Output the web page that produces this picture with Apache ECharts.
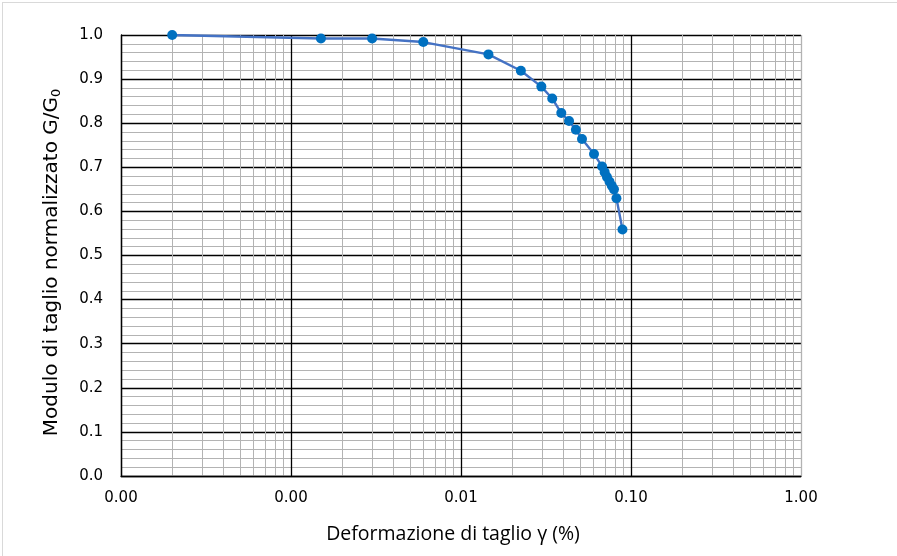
<!DOCTYPE html>
<html>
<head>
<meta charset="utf-8">
<script src="https://cdn.jsdelivr.net/npm/echarts@6/dist/echarts.min.js"></script>
<style>
  html, body { margin: 0; padding: 0; background: #fff; }
  #frame { position: absolute; left: 2px; top: 2px; width: 900px; height: 560px; border: 1px solid #d9d9d9; box-sizing: border-box; }
  #main { position: absolute; left: 0; top: 0; width: 897px; height: 556px; }
</style>
</head>
<body>
<div id="frame"></div>
<div id="main"></div>
<script>
// shear strain (%) and normalised shear modulus G/G0
var strain = [0.0002, 0.0015, 0.003, 0.006, 0.0145, 0.0225, 0.0297, 0.0344, 0.0389, 0.0432, 0.0474,
              0.0515, 0.0606, 0.0676, 0.0700, 0.0722, 0.0747, 0.0771, 0.0794, 0.0821, 0.0891];
var ratio = [1.0, 0.992, 0.992, 0.984, 0.956, 0.919, 0.883, 0.856, 0.823, 0.805, 0.785,
             0.764, 0.730, 0.702, 0.689, 0.678, 0.668, 0.658, 0.650, 0.630, 0.559];

var decades = [0.0001, 0.001, 0.01, 0.1];
var minorSteps = [2, 3, 4, 5, 6, 7, 8, 9];

// minor log grid positions (2..9 of each decade)
var minorX = [];
decades.forEach(function (d) {
    minorSteps.forEach(function (m) {
        minorX.push([d * m, 0]);
    });
});

var points = strain.map(function (s, i) { return [s, ratio[i]]; });

var labelFont = '"DejaVu Sans", sans-serif';

var chart = echarts.init(document.getElementById('main'));
chart.setOption({
    animation: false,
    grid: { left: 121, right: 96, top: 35, bottom: 80 },
    xAxis: {
        type: 'log',
        logBase: 10,
        min: 0.0001,
        max: 1,
        z: 2,
        name: 'Deformazione di taglio \u03b3 (%)',
        nameLocation: 'middle',
        nameGap: 48,
        nameTextStyle: {
            fontFamily: '"Open Sans", "Liberation Sans", sans-serif', fontSize: 19.5, color: '#000',
            padding: [0, 16, 0, 0]
        },
        axisLine: { show: true, lineStyle: { color: '#000', width: 1.3 } },
        axisTick: { show: false },
        axisLabel: {
            margin: 15,
            fontFamily: labelFont,
            fontSize: 15,
            color: '#000',
            formatter: function (v) { return v.toFixed(2); }
        },
        splitLine: { show: true, lineStyle: { color: ['#000', '#000', '#000', '#000', '#b3b3b3'], width: 1.3 } }
    },
    yAxis: {
        type: 'value',
        min: 0,
        max: 1,
        interval: 0.1,
        z: 0,
        name: 'Modulo di taglio normalizzato G/G{sub|0}',
        nameLocation: 'middle',
        nameGap: 58,
        nameTextStyle: {
            fontFamily: labelFont, fontSize: 20, color: '#000',
            padding: [0, 14, 0, 0],
            rich: { sub: { fontFamily: labelFont, fontSize: 13, color: '#000', padding: [9, 0, 0, 0] } }
        },
        axisLine: { show: true, lineStyle: { color: '#000', width: 1.3 } },
        axisTick: { show: false },
        axisLabel: {
            margin: 18,
            fontFamily: labelFont,
            fontSize: 15,
            color: '#000',
            formatter: function (v) { return v.toFixed(1); }
        },
        splitLine: { show: true, lineStyle: { color: '#000', width: 1.3 } },
        minorTick: { show: false, splitNumber: 5 },
        minorSplitLine: { show: true, lineStyle: { color: '#b3b3b3', width: 1 } }
    },
    series: [
        {
            type: 'custom',
            z: 1,
            silent: true,
            data: minorX,
            renderItem: function (params, api) {
                var p0 = api.coord([api.value(0), 0]);
                var p1 = api.coord([api.value(0), 1]);
                var x = Math.round(p0[0]) + 0.5;
                return {
                    type: 'line',
                    shape: { x1: x, y1: p0[1], x2: x, y2: p1[1] },
                    style: { stroke: '#b3b3b3', lineWidth: 1 }
                };
            }
        },
        {
            type: 'line',
            z: 3,
            data: points,
            symbol: 'circle',
            symbolSize: 10,
            lineStyle: { color: '#4472C4', width: 2.4 },
            itemStyle: { color: '#0070C0' }
        }
    ]
});
</script>
</body>
</html>
